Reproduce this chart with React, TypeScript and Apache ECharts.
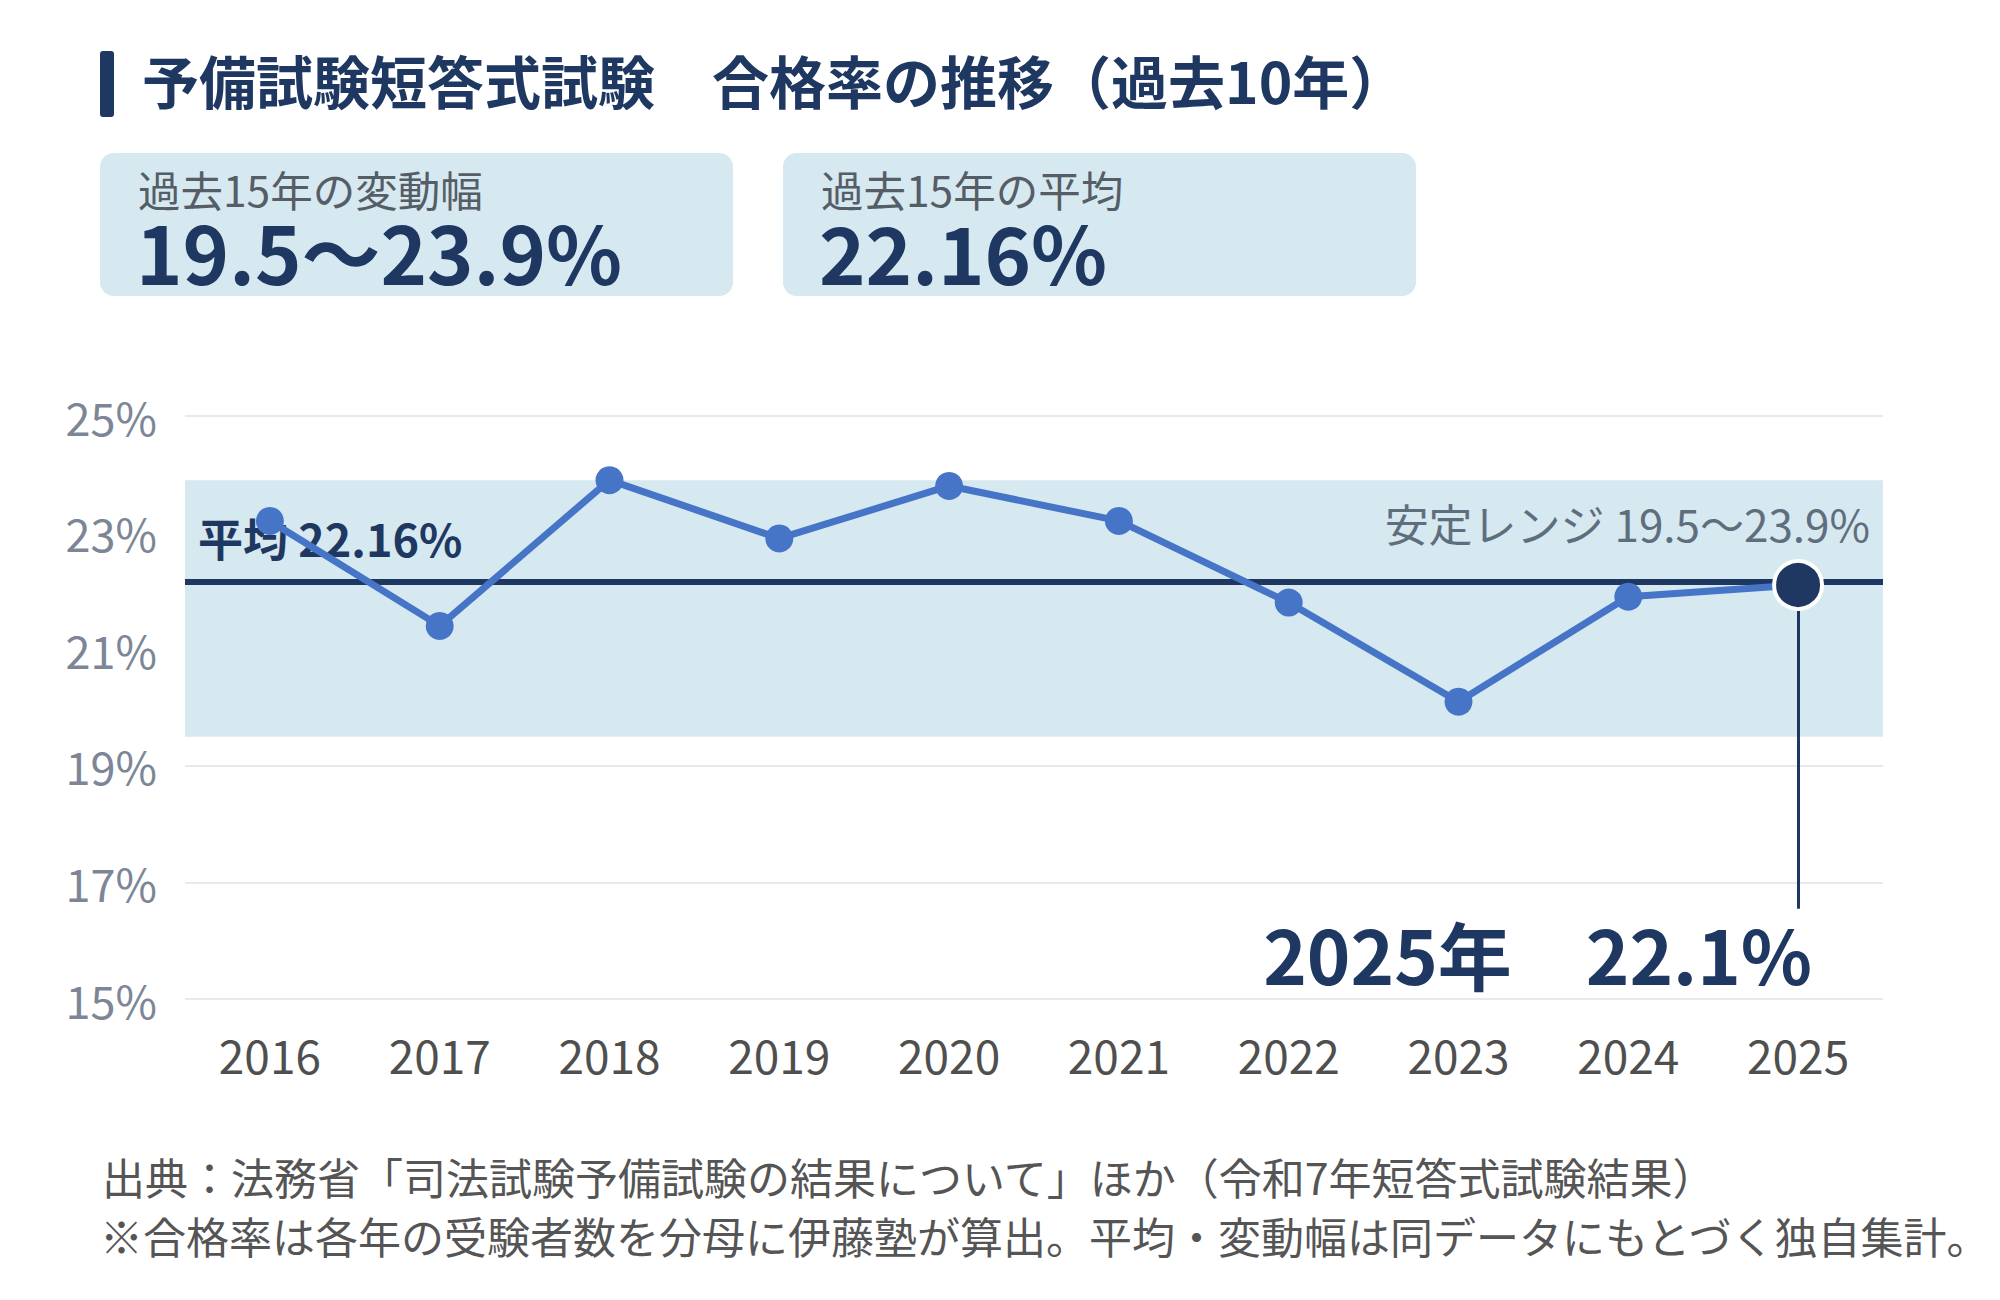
import React, { useEffect, useRef } from "react";
import * as echarts from "echarts";

// 予備試験 短答式試験 合格率（%）
const years = ["2016", "2017", "2018", "2019", "2020", "2021", "2022", "2023", "2024", "2025"];
const passRates = [23.2, 21.4, 23.9, 22.9, 23.8, 23.2, 21.8, 20.1, 21.9, 22.1];
const stableRange = [19.5, 23.9];
const average15 = 22.16;
const yMin = 15;
const yMax = 25;
const yInterval = 2;

const FONT = '"Noto Sans CJK JP", "Noto Sans", sans-serif';
const NAVY = "#1f3862";
const BLUE = "#4674c6";
const BAND = "#d6e8f0";

export default function App() {
  const ref = useRef<HTMLDivElement>(null);

  useEffect(() => {
    if (!ref.current) return;
    const chart = echarts.init(ref.current, undefined, { renderer: "svg" });
    const lastIdx = passRates.length - 1;
    const lastYear = years[lastIdx];
    const lastValue = passRates[lastIdx];

    const lineData = passRates.map((v, i) =>
      i === lastIdx
        ? {
            value: v,
            symbolSize: 48,
            itemStyle: { color: NAVY, borderColor: "#ffffff", borderWidth: 4 },
          }
        : v
    );

    const option: any = {
      animation: false,
      backgroundColor: "#ffffff",
      textStyle: { fontFamily: FONT },
      grid: { left: 185, right: 117, top: 416, bottom: 301, containLabel: false },
      xAxis: {
        type: "category",
        data: years,
        boundaryGap: true,
        axisLine: { show: false },
        axisTick: { show: false },
        axisLabel: { color: "#4f4f4f", fontSize: 46, margin: 32, fontFamily: FONT },
        splitLine: { show: false },
      },
      yAxis: {
        type: "value",
        min: yMin,
        max: yMax,
        interval: yInterval,
        axisLine: { show: false },
        axisTick: { show: false },
        axisLabel: {
          color: "#7c8696",
          fontSize: 45,
          margin: 28,
          fontFamily: FONT,
          formatter: "{value}%",
        },
        splitLine: { lineStyle: { color: "#e6e9ef", width: 2 } },
      },
      series: [
        {
          type: "line",
          data: lineData,
          z: 3,
          lineStyle: { color: BLUE, width: 7 },
          itemStyle: { color: BLUE },
          symbol: "circle",
          symbolSize: 28,
          markArea: {
            silent: true,
            z: 1,
            itemStyle: { color: BAND },
            label: {
              show: true,
              position: "insideTopRight",
              distance: 13,
              offset: [0, 8],
              color: "#5f6e7d",
              fontSize: 44,
              fontFamily: FONT,
              formatter: `安定レンジ ${stableRange[0]}〜${stableRange[1]}%`,
            },
            data: [[{ yAxis: stableRange[0] }, { yAxis: stableRange[1] }]],
          },
          markLine: {
            silent: true,
            z: 2,
            symbol: "none",
            data: [
              {
                yAxis: average15,
                lineStyle: { color: NAVY, width: 6, type: "solid" },
                label: {
                  show: true,
                  position: "insideStartTop",
                  distance: [13, 22],
                  color: NAVY,
                  fontSize: 45,
                  fontWeight: "bold",
                  fontFamily: FONT,
                  formatter: `平均 ${average15}%`,
                },
              },
              [
                {
                  coord: [lastYear, lastValue],
                  lineStyle: { color: NAVY, width: 3, type: "solid" },
                  label: { show: false },
                },
                { coord: [lastYear, 16.55] },
              ],
            ],
          },
          markPoint: {
            silent: true,
            symbol: "circle",
            symbolSize: 0,
            data: [
              {
                coord: [lastYear, 15.8],
                label: {
                  show: true,
                  position: "inside",
                  align: "right",
                  verticalAlign: "middle",
                  offset: [14, 0],
                  color: NAVY,
                  fontSize: 74,
                  fontWeight: "bold",
                  fontFamily: FONT,
                  formatter: `${lastYear}年　${lastValue}%`,
                },
              },
            ],
          },
        },
      ],
      graphic: [
        // 見出し
        {
          type: "rect",
          left: 100,
          top: 51,
          shape: { width: 14, height: 66, r: 3 },
          style: { fill: NAVY },
        },
        {
          type: "text",
          x: 142,
          y: 79,
          style: {
            text: "予備試験短答式試験　合格率の推移（過去10年）",
            fill: NAVY,
            font: `bold 57px ${FONT}`,
            verticalAlign: "middle",
          },
        },
        // 指標ボックス
        {
          type: "rect",
          left: 100,
          top: 153,
          shape: { width: 633, height: 143, r: 14 },
          style: { fill: BAND },
        },
        {
          type: "rect",
          left: 783,
          top: 153,
          shape: { width: 633, height: 143, r: 14 },
          style: { fill: BAND },
        },
        {
          type: "text",
          x: 138,
          y: 188,
          style: {
            text: "過去15年の変動幅",
            fill: "#555d66",
            font: `42.5px ${FONT}`,
            verticalAlign: "middle",
          },
        },
        {
          type: "text",
          x: 136,
          y: 250,
          style: {
            text: `${stableRange[0]}〜${stableRange[1]}%`,
            fill: NAVY,
            font: `bold 79px ${FONT}`,
            verticalAlign: "middle",
          },
        },
        {
          type: "text",
          x: 821,
          y: 188,
          style: {
            text: "過去15年の平均",
            fill: "#555d66",
            font: `42.5px ${FONT}`,
            verticalAlign: "middle",
          },
        },
        {
          type: "text",
          x: 819,
          y: 250,
          style: {
            text: `${average15}%`,
            fill: NAVY,
            font: `bold 79px ${FONT}`,
            verticalAlign: "middle",
          },
        },
        // 出典・注記
        {
          type: "text",
          x: 102,
          y: 1176,
          style: {
            text: "出典：法務省「司法試験予備試験の結果について」ほか（令和7年短答式試験結果）",
            fill: "#555555",
            font: `43px ${FONT}`,
            verticalAlign: "middle",
          },
        },
        {
          type: "text",
          x: 100,
          y: 1235,
          style: {
            text: "※合格率は各年の受験者数を分母に伊藤塾が算出。平均・変動幅は同データにもとづく独自集計。",
            fill: "#555555",
            font: `43px ${FONT}`,
            verticalAlign: "middle",
          },
        },
      ],
    };

    chart.setOption(option);
    return () => chart.dispose();
  }, []);

  return (
    <div
      ref={ref}
      style={{ position: "absolute", left: 0, top: 0, width: 2000, height: 1300, background: "#fff" }}
    />
  );
}
